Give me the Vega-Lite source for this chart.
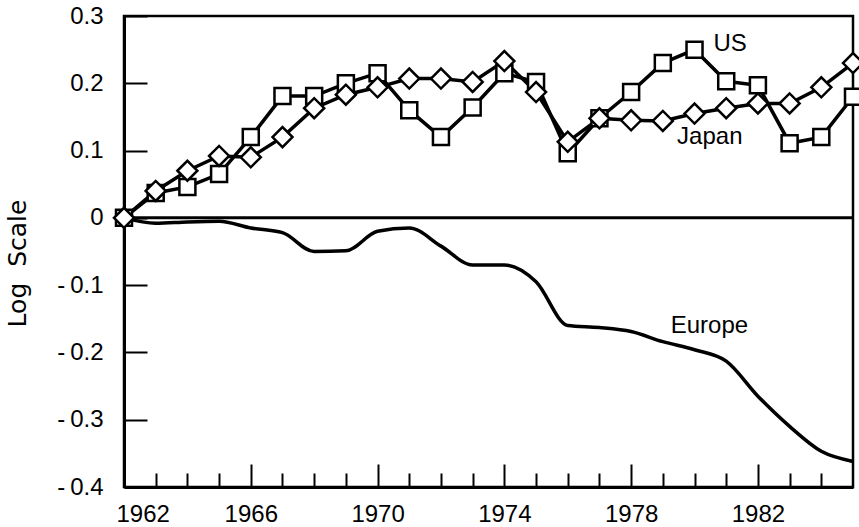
{
  "$schema": "https://vega.github.io/schema/vega-lite/v6.json",
  "width": 729,
  "height": 471,
  "autosize": {"type": "none"},
  "padding": {"left": 124, "top": 16, "right": 6, "bottom": 40},
  "background": "white",
  "config": {
    "view": {"stroke": "black", "strokeWidth": 2.5},
    "font": "Liberation Sans",
    "axis": {
      "domainColor": "black", "domainWidth": 3,
      "tickColor": "black", "tickWidth": 2,
      "labelColor": "black", "labelFont": "Liberation Sans", "labelFontSize": 24,
      "titleFont": "DejaVu Sans", "titleFontSize": 25, "titleFontWeight": "normal", "titleColor": "black",
      "grid": false
    }
  },
  "datasets": {
    "series": [
      {"year": 1962, "series": "US", "value": 0},
      {"year": 1963, "series": "US", "value": 0.037},
      {"year": 1964, "series": "US", "value": 0.046},
      {"year": 1965, "series": "US", "value": 0.065},
      {"year": 1966, "series": "US", "value": 0.12},
      {"year": 1967, "series": "US", "value": 0.181},
      {"year": 1968, "series": "US", "value": 0.181},
      {"year": 1969, "series": "US", "value": 0.2},
      {"year": 1970, "series": "US", "value": 0.215},
      {"year": 1971, "series": "US", "value": 0.16},
      {"year": 1972, "series": "US", "value": 0.12},
      {"year": 1973, "series": "US", "value": 0.164},
      {"year": 1974, "series": "US", "value": 0.215},
      {"year": 1975, "series": "US", "value": 0.202},
      {"year": 1976, "series": "US", "value": 0.096},
      {"year": 1977, "series": "US", "value": 0.148},
      {"year": 1978, "series": "US", "value": 0.187},
      {"year": 1979, "series": "US", "value": 0.23},
      {"year": 1980, "series": "US", "value": 0.25},
      {"year": 1981, "series": "US", "value": 0.203},
      {"year": 1982, "series": "US", "value": 0.197},
      {"year": 1983, "series": "US", "value": 0.111},
      {"year": 1984, "series": "US", "value": 0.12},
      {"year": 1985, "series": "US", "value": 0.18},
      {"year": 1962, "series": "Japan", "value": 0},
      {"year": 1963, "series": "Japan", "value": 0.04},
      {"year": 1964, "series": "Japan", "value": 0.07},
      {"year": 1965, "series": "Japan", "value": 0.092},
      {"year": 1966, "series": "Japan", "value": 0.09},
      {"year": 1967, "series": "Japan", "value": 0.12},
      {"year": 1968, "series": "Japan", "value": 0.163},
      {"year": 1969, "series": "Japan", "value": 0.183},
      {"year": 1970, "series": "Japan", "value": 0.194},
      {"year": 1971, "series": "Japan", "value": 0.207},
      {"year": 1972, "series": "Japan", "value": 0.207},
      {"year": 1973, "series": "Japan", "value": 0.202},
      {"year": 1974, "series": "Japan", "value": 0.233},
      {"year": 1975, "series": "Japan", "value": 0.187},
      {"year": 1976, "series": "Japan", "value": 0.113},
      {"year": 1977, "series": "Japan", "value": 0.148},
      {"year": 1978, "series": "Japan", "value": 0.145},
      {"year": 1979, "series": "Japan", "value": 0.144},
      {"year": 1980, "series": "Japan", "value": 0.155},
      {"year": 1981, "series": "Japan", "value": 0.163},
      {"year": 1982, "series": "Japan", "value": 0.17},
      {"year": 1983, "series": "Japan", "value": 0.17},
      {"year": 1984, "series": "Japan", "value": 0.194},
      {"year": 1985, "series": "Japan", "value": 0.23}
    ],
    "europe": [
      {"year": 1962, "value": 0},
      {"year": 1963, "value": -0.008},
      {"year": 1964, "value": -0.006},
      {"year": 1965, "value": -0.005},
      {"year": 1966, "value": -0.015},
      {"year": 1967, "value": -0.022},
      {"year": 1968, "value": -0.05},
      {"year": 1969, "value": -0.049},
      {"year": 1970, "value": -0.02},
      {"year": 1971, "value": -0.015},
      {"year": 1972, "value": -0.042},
      {"year": 1973, "value": -0.07},
      {"year": 1974, "value": -0.07},
      {"year": 1975, "value": -0.095},
      {"year": 1976, "value": -0.16},
      {"year": 1977, "value": -0.163},
      {"year": 1978, "value": -0.169},
      {"year": 1979, "value": -0.184},
      {"year": 1980, "value": -0.196},
      {"year": 1981, "value": -0.213},
      {"year": 1982, "value": -0.265},
      {"year": 1983, "value": -0.31},
      {"year": 1984, "value": -0.347},
      {"year": 1985, "value": -0.362}
    ],
    "labels": [
      {"label": "US", "year": 1980.6, "value": 0.259},
      {"label": "Japan", "year": 1979.45, "value": 0.12},
      {"label": "Europe", "year": 1979.25, "value": -0.161}
    ]
  },
  "layer": [
    {
      "data": {"values": [{"v": 0}]},
      "mark": {"type": "rule", "color": "black", "strokeWidth": 3},
      "encoding": {
        "y": {"field": "v", "type": "quantitative", "scale": {"domain": [-0.4, 0.3], "nice": false, "zero": false},
          "axis": {
            "title": "Log\u00a0 Scale", "values": [-0.4, -0.3, -0.2, -0.1, 0, 0.1, 0.2, 0.3],
            "tickSize": -23, "labelPadding": 44, "labelOverlap": false,
            "titleX": -99, "titleY": 247, "titleBaseline": "alphabetic", "titleAngle": 270,
            "labelExpr": "datum.value < 0 ? '-\u2009' + format(-datum.value, '.1f') : (datum.value == 0 ? '0' : format(datum.value, '.1f'))"
          }
        }
      }
    },
    {
      "data": {"name": "europe"},
      "mark": {"type": "line", "color": "black", "strokeWidth": 3.5, "interpolate": "monotone"},
      "encoding": {
        "x": {"field": "year", "type": "quantitative", "scale": {"domain": [1962, 1985], "nice": false, "zero": false},
          "axis": {"orient": "bottom", "values": [1963, 1964, 1965, 1967, 1968, 1969, 1971, 1972, 1973, 1975, 1976, 1977, 1979, 1980, 1981, 1983, 1984], "tickSize": -14, "labels": false, "domain": false, "title": null}
        },
        "y": {"field": "value", "type": "quantitative"}
      }
    },
    {
      "data": {"name": "series"},
      "mark": {"type": "line", "color": "black", "strokeWidth": 3.5},
      "encoding": {
        "x": {"field": "year", "type": "quantitative",
          "axis": {"orient": "bottom", "values": [1962, 1966, 1970, 1974, 1978, 1982], "tickSize": -23, "labelPadding": 38, "format": "d", "title": null, "labelOverlap": false, "labelFlush": true, "labelFlushOffset": 8}
        },
        "y": {"field": "value", "type": "quantitative"},
        "detail": {"field": "series"}
      }
    },
    {
      "data": {"name": "series"},
      "mark": {"type": "point", "filled": false, "fill": "white", "stroke": "black", "strokeWidth": 2.5, "opacity": 1},
      "encoding": {
        "x": {"field": "year", "type": "quantitative", "axis": null},
        "y": {"field": "value", "type": "quantitative"},
        "shape": {"field": "series", "type": "nominal", "scale": {"domain": ["US", "Japan"], "range": ["square", "diamond"]}, "legend": null},
        "size": {"field": "series", "type": "nominal", "scale": {"domain": ["US", "Japan"], "range": [256, 400]}, "legend": null}
      }
    },
    {
      "data": {"name": "labels"},
      "mark": {"type": "text", "align": "left", "baseline": "middle", "fontSize": 24, "color": "black", "font": "Liberation Sans"},
      "encoding": {
        "x": {"field": "year", "type": "quantitative", "axis": null},
        "y": {"field": "value", "type": "quantitative"},
        "text": {"field": "label"}
      }
    }
  ],
  "resolve": {"axis": {"x": "independent"}}
}
